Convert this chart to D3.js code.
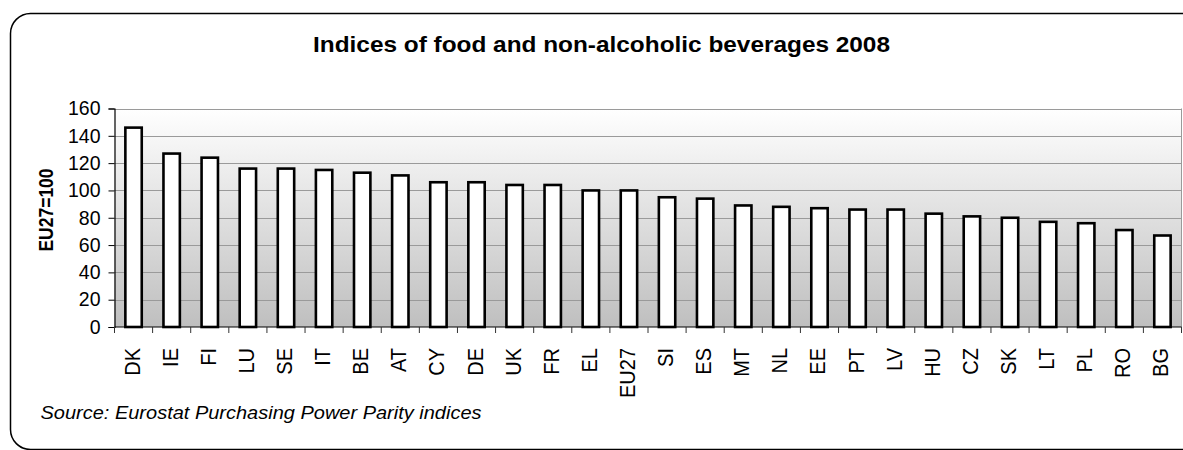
<!DOCTYPE html>
<html>
<head>
<meta charset="utf-8">
<script src="https://cdn.jsdelivr.net/npm/d3@7"></script>
<style>
  html, body { margin: 0; padding: 0; background: #fff; }
  svg { display: block; }
  text { font-family: "Liberation Sans", Arial, sans-serif; fill: #000; }
</style>
</head>
<body>
<svg id="chart" width="1183" height="450"></svg>
<script>
const categories = ["DK","IE","FI","LU","SE","IT","BE","AT","CY","DE","UK","FR","EL","EU27","SI","ES","MT","NL","EE","PT","LV","HU","CZ","SK","LT","PL","RO","BG"];
const values = [146,127,124,116,116,115,113,111,106,106,104,104,100,100,95,94,89,88,87,86,86,83,81,80,77,76,71,67];
const yTicks = [0,20,40,60,80,100,120,140,160];
const titleText = "Indices of food and non-alcoholic beverages 2008";
const yAxisTitle = "EU27=100";
const sourceText = "Source: Eurostat Purchasing Power Parity indices";

const svg = d3.select("#chart");
const W = 1183, H = 450;
const plot = {left: 114.5, right: 1181.5, top: 108.5, bottom: 327};

svg.append("rect").attr("width", W).attr("height", H).attr("fill", "#fff");

// outer rounded border (right/bottom edges run off the image)
svg.append("rect")
  .attr("x", 10.5).attr("y", 13.5)
  .attr("width", 1200).attr("height", 436)
  .attr("rx", 20).attr("ry", 20)
  .attr("fill", "none").attr("stroke", "#000").attr("stroke-width", 1.5);

const defs = svg.append("defs");
const grad = defs.append("linearGradient").attr("id", "bg")
  .attr("x1", 0).attr("y1", 0).attr("x2", 0).attr("y2", 1);
grad.append("stop").attr("offset", "0%").attr("stop-color", "#ffffff");
grad.append("stop").attr("offset", "100%").attr("stop-color", "#bfbfbf");

const x = d3.scaleBand().domain(categories)
  .range([plot.left, plot.right]).paddingInner(0.57).paddingOuter(0.285);
const xb = d3.scaleBand().domain(categories).range([plot.left, plot.right]);
const y = d3.scaleLinear().domain([0, 160]).range([plot.bottom, plot.top]);

svg.append("rect")
  .attr("x", plot.left).attr("y", plot.top)
  .attr("width", plot.right - plot.left).attr("height", plot.bottom - plot.top)
  .attr("fill", "url(#bg)");

// gridlines
svg.append("g").selectAll("line").data(yTicks.filter(d => d > 0)).join("line")
  .attr("x1", plot.left).attr("x2", plot.right)
  .attr("y1", d => Math.round(y(d)) + 0.5).attr("y2", d => Math.round(y(d)) + 0.5)
  .attr("stroke", "#9a9a9a").attr("stroke-width", 1);

svg.append("line")
  .attr("x1", plot.right).attr("x2", plot.right)
  .attr("y1", plot.top).attr("y2", plot.bottom)
  .attr("stroke", "#9a9a9a");

// bars
svg.append("g").selectAll("rect").data(values).join("rect")
  .attr("x", (d, i) => x(categories[i]))
  .attr("width", x.bandwidth())
  .attr("y", d => y(d))
  .attr("height", d => y(0) - y(d))
  .attr("fill", "#fff").attr("stroke", "#000").attr("stroke-width", 2.6);

// y axis
const yAxis = d3.axisLeft(y).tickValues(yTicks).tickSize(6).tickPadding(8).tickFormat(d3.format("d"));
const gy = svg.append("g").attr("transform", `translate(${plot.left},0)`).call(yAxis);
gy.select(".domain").attr("stroke", "#000").attr("stroke-width", 1.2);
gy.selectAll(".tick line").attr("stroke", "#000");
gy.selectAll(".tick text").attr("font-size", 19.5).attr("font-family", "Liberation Sans, Arial, sans-serif").attr("fill", "#000");

// x axis
const gx = svg.append("g").attr("transform", `translate(0,${plot.bottom})`);
gx.append("line").attr("x1", plot.left).attr("x2", plot.right).attr("y1", 0).attr("y2", 0)
  .attr("stroke", "#000").attr("stroke-width", 1.2);
const bounds = categories.map(c => xb(c)).concat([plot.right]);
gx.selectAll("line.tk").data(bounds).join("line").attr("class", "tk")
  .attr("x1", d => d).attr("x2", d => d).attr("y1", 0).attr("y2", 6)
  .attr("stroke", "#333");
gx.selectAll("text").data(categories).join("text")
  .attr("transform", d => `translate(${xb(d) + xb.bandwidth() / 2 + 6},21) rotate(-90) scale(1,1.12)`)
  .attr("text-anchor", "end")
  .attr("font-size", 20)
  .text(d => d);

// title
svg.append("text")
  .attr("x", 313).attr("y", 52)
  .attr("text-anchor", "start")
  .attr("font-size", 21.5).attr("font-weight", "bold")
  .attr("textLength", 577).attr("lengthAdjust", "spacingAndGlyphs")
  .text(titleText);

// y axis title
svg.append("text")
  .attr("transform", `translate(53,210) rotate(-90) scale(1,1.2)`)
  .attr("text-anchor", "middle")
  .attr("font-size", 17.5).attr("font-weight", "bold")
  .text(yAxisTitle);

// source
svg.append("text")
  .attr("x", 40.5).attr("y", 419)
  .attr("font-size", 17.5).attr("font-style", "italic")
  .attr("textLength", 441).attr("lengthAdjust", "spacingAndGlyphs")
  .text(sourceText);
</script>
</body>
</html>
